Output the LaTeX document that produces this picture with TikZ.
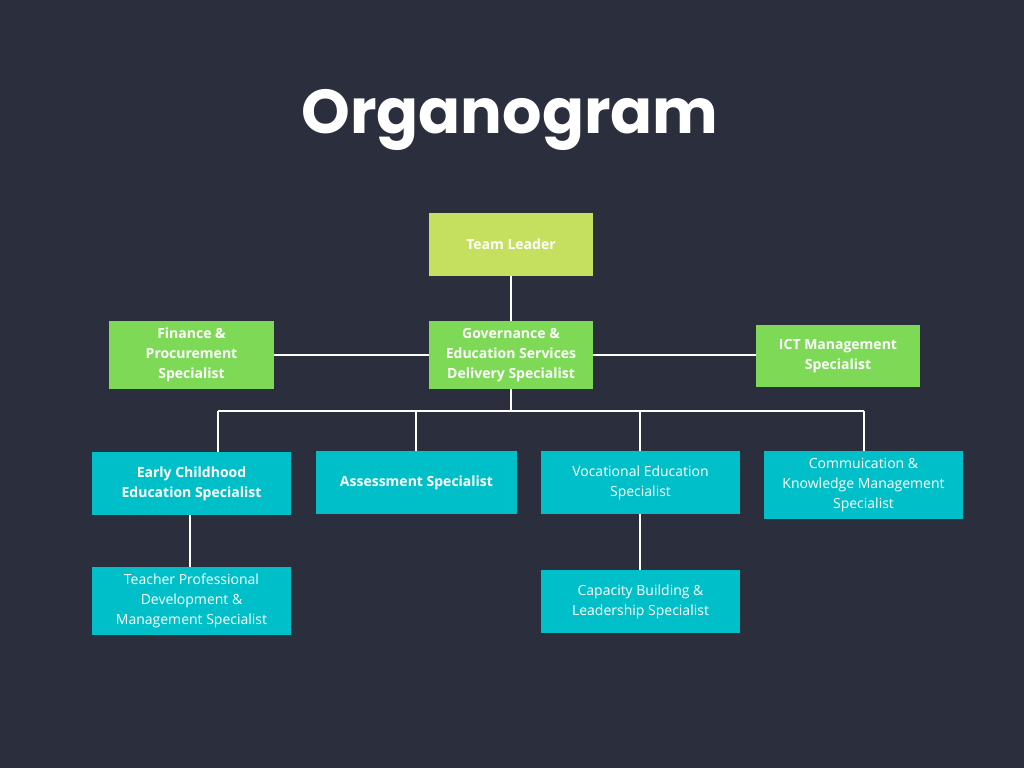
\documentclass[tikz,border=0pt]{standalone}
\usepackage{fontspec}
\setmainfont{Open Sans}
\newfontfamily\titlefont{Poppins}
\definecolor{bg}{HTML}{2B2E3C}
\definecolor{lime}{HTML}{C5DF5F}
\definecolor{grn}{HTML}{7ED957}
\definecolor{cyn}{HTML}{00BFC8}
\begin{document}
\begin{tikzpicture}[x=1pt,y=-1pt,
  box/.style={minimum width=#1, inner sep=0pt, align=center, text=white, font=\fontsize{14}{20}\selectfont},
  lb/.style={fill=lime, font=\fontsize{14}{20}\selectfont\bfseries},
  gb/.style={fill=grn, font=\fontsize{14}{20}\selectfont\bfseries},
  cb/.style={fill=cyn},
  cbb/.style={fill=cyn, font=\fontsize{14}{20}\selectfont\bfseries},
  ln/.style={draw=white, line width=1.5pt}]
\fill[bg] (0,0) rectangle (1024,768);
\useasboundingbox (0,0) rectangle (1024,768);
\node[text=white, font=\titlefont\fontsize{62}{70}\selectfont\bfseries] (title) at (510,120) {Organogram};
\node[box=164pt, minimum height=63pt, lb] (tl) at (511,244.5) {Team Leader};
\node[box=165pt, minimum height=68pt, gb] (fin) at (191.5,355) {Finance \&\\Procurement\\Specialist};
\node[box=164pt, minimum height=68pt, gb] (gov) at (511,355) {Governance \&\\Education Services\\Delivery Specialist};
\node[box=164pt, minimum height=62pt, gb] (ict) at (838,356) {ICT Management\\Specialist};
\node[box=199pt, minimum height=63pt, cbb] (ec) at (191.5,483.5) {Early Childhood\\Education Specialist};
\node[box=201pt, minimum height=63pt, cbb] (as) at (416.5,482.5) {Assessment Specialist};
\node[box=199pt, minimum height=63pt, cb] (vo) at (640.5,482.5) {Vocational Education\\Specialist};
\node[box=199pt, minimum height=68pt, cb] (co) at (863.5,485) {Commuication \&\\Knowledge Management\\Specialist};
\node[box=199pt, minimum height=68pt, cb] (te) at (191.5,601) {Teacher Professional\\Development \&\\Management Specialist};
\node[box=199pt, minimum height=63pt, cb] (ca) at (640.5,601.5) {Capacity Building \&\\Leadership Specialist};
\coordinate (j) at (511,411);
\draw[ln] (tl) -- (gov);
\draw[ln] (fin.east |- 0,355) -- (gov.west |- 0,355);
\draw[ln] (gov.east |- 0,355) -- (ict.west |- 0,355);
\draw[ln] (gov) -- (j);
\draw[ln] (218,411) -- (864,411);
\draw[ln] (218,411) -- (218,452);
\draw[ln] (416,411) -- (as.north -| 416,0);
\draw[ln] (640,411) -- (vo.north -| 640,0);
\draw[ln] (864,411) -- (co.north -| 864,0);
\draw[ln] (ec.south -| 190,0) -- (te.north -| 190,0);
\draw[ln] (vo.south -| 640,0) -- (ca.north -| 640,0);
\end{tikzpicture}
\end{document}
